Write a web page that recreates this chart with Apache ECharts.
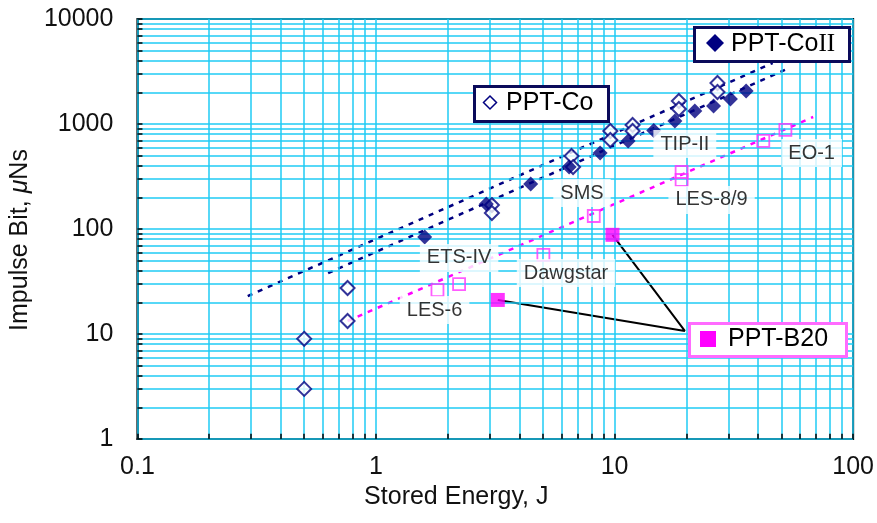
<!DOCTYPE html>
<html>
<head>
<meta charset="utf-8">
<script src="https://cdn.jsdelivr.net/npm/echarts@6/dist/echarts.min.js"></script>
<style>html,body{margin:0;padding:0;background:#fff}#c{width:877px;height:523px}</style>
</head>
<body>
<div id="c"></div>
<script>
// ---- data ----
const coIIEnergy  = [1.6, 2.9, 4.45, 6.45, 8.7, 11.4, 14.6, 17.9, 21.7, 26, 30.6, 35.6];
const coIIImpulse = [84, 173, 268, 389, 529, 689, 867, 1068, 1330, 1484, 1730, 2062];

const coEnergy  = [0.5, 0.5, 0.76, 0.76, 3.06, 3.06, 6.6, 6.7, 9.6, 9.6, 11.9, 11.9, 18.6, 18.6, 27, 27];
const coImpulse = [3.0, 9.0, 13.3, 27.4, 169, 142, 496, 389, 858, 704, 979, 858, 1656, 1389, 2457, 2017];

const lesEnergy  = [1.81, 2.23, 5.03, 8.18, 19.1, 19.1, 42, 52];
const lesImpulse = [26.2, 29.9, 56.6, 133, 293, 349, 690, 880];

const b20Energy  = [3.24, 9.8];
const b20Impulse = [21.1, 88];

const coTrendE   = [0.29, 46];   const coTrendI   = [23, 3810];
const coIITrendE = [0.63, 54];   const coIITrendI = [38, 3415];
const lesTrendE  = [0.76, 68];   const lesTrendI  = [13.3, 1166];

const calloutE = [19.7];  const calloutI = [10.7];

const labelNames = ['ETS-IV', 'Dawgstar', 'LES-6', 'SMS', 'TIP-II', 'LES-8/9', 'EO-1'];
const labelE     = [2.23, 6.26, 1.76, 7.3, 19.7, 25.5, 67];
const labelI     = [53, 38, 16.9, 220, 645, 189, 529];

const xDecades = [0.1, 1, 10];
const yDecades = [1, 10, 100, 1000];
const xTickLabels = ['0.1', '1', '10', '100'];
const yTickLabels = ['1', '10', '100', '1000', '10000'];

// ---- build ----
const zip = (a, b) => a.map((v, i) => [v, b[i]]);
const xGridVals = []; xDecades.forEach(d => { for (let k = 1; k <= 9; k++) xGridVals.push(+(k * d).toPrecision(3)); }); xGridVals.push(100);
const yGridVals = []; yDecades.forEach(d => { for (let k = 1; k <= 9; k++) yGridVals.push(k * d); }); yGridVals.push(10000);

const CYAN = '#1fcbf4';
const NAVY = '#000080';
const MAG = '#ff00ff';
const FONT = '"Liberation Sans", Arial, Helvetica, sans-serif';
const SERIF = '"Liberation Serif", "DejaVu Serif", serif';

const gridMarks = [];
xGridVals.forEach(v => gridMarks.push({ xAxis: v }));
yGridVals.forEach(v => gridMarks.push({ yAxis: v }));

const tickMarks = [];
xGridVals.forEach(v => tickMarks.push([{ coord: [v, 1] }, { coord: [v, 1.12] }]));
yGridVals.forEach(v => tickMarks.push([{ coord: [0.1, v] }, { coord: [0.105, v] }]));

const chart = echarts.init(document.getElementById('c'), null, { renderer: 'canvas' });
chart.setOption({
  animation: false,
  backgroundColor: '#fff',
  textStyle: { fontFamily: FONT },
  grid: { left: 135, top: 19, width: 723, height: 420, show: true, borderColor: '#000', borderWidth: 2, backgroundColor: '#fff' },
  xAxis: {
    type: 'log', logBase: 10, min: 0.1, max: 100,
    name: 'Stored Energy, J', nameLocation: 'middle', nameGap: 46,
    nameTextStyle: { fontSize: 25, color: '#111', fontFamily: FONT, padding: [0, 78, 0, 0] },
    axisLine: { show: true, lineStyle: { color: '#000', width: 2 } },
    axisTick: { show: false },
    splitLine: { show: false },
    axisLabel: { fontSize: 25, color: '#111', margin: 16, fontFamily: FONT,
      formatter: v => { const s = xTickLabels.find(t => Math.abs(+t - v) < 1e-9); return s || ''; } }
  },
  yAxis: {
    type: 'log', logBase: 10, min: 1, max: 10000,
    name: 'Impulse Bit, {i|μ}Ns', nameLocation: 'middle', nameGap: 98,
    nameTextStyle: { fontSize: 25, color: '#111', fontFamily: FONT, padding: [0, 22, 0, 0],
      rich: { i: { fontStyle: 'italic', fontSize: 25, fontFamily: FONT, color: '#111' } } },
    axisLine: { show: true, lineStyle: { color: '#000', width: 2 } },
    axisTick: { show: false },
    splitLine: { show: false },
    axisLabel: { fontSize: 25, color: '#111', margin: 24, fontFamily: FONT,
      formatter: v => { const s = yTickLabels.find(t => Math.abs(+t - v) < 1e-9); return s || ''; } }
  },
  series: [
    { type: 'line', data: [], silent: true, z: 1,
      markLine: { silent: true, symbol: 'none', animation: false, label: { show: false },
        lineStyle: { color: CYAN, width: 1.5, type: 'solid' }, data: gridMarks } },
    { type: 'line', data: [], silent: true, z: 2,
      markLine: { silent: true, symbol: 'none', animation: false, label: { show: false },
        lineStyle: { color: '#000', width: 1.5, type: 'solid' }, data: tickMarks } },
    { name: 'coTrend', type: 'line', data: zip(coTrendE, coTrendI), symbol: 'none', z: 3,
      lineStyle: { color: NAVY, width: 2.5, type: [5, 6] } },
    { name: 'coIITrend', type: 'line', data: zip(coIITrendE, coIITrendI), symbol: 'none', z: 3,
      lineStyle: { color: NAVY, width: 2.5, type: [5, 6] } },
    { name: 'lesTrend', type: 'line', data: zip(lesTrendE, lesTrendI), symbol: 'none', z: 3,
      lineStyle: { color: MAG, width: 2.5, type: [5, 6] } },
    { name: 'callout', type: 'line', symbol: 'none', z: 4,
      data: [[b20Energy[0], b20Impulse[0]], [calloutE[0], calloutI[0]], [b20Energy[1], b20Impulse[1]]],
      lineStyle: { color: '#000', width: 2 } },
    { name: 'PPT-Co', type: 'scatter', data: zip(coEnergy, coImpulse), symbol: 'diamond', symbolSize: 14, z: 5,
      itemStyle: { color: '#fff', borderColor: NAVY, borderWidth: 2 } },
    { name: 'PPT-CoII', type: 'scatter', data: zip(coIIEnergy, coIIImpulse), symbol: 'diamond', symbolSize: 15, z: 6,
      itemStyle: { color: NAVY } },
    { name: 'LES', type: 'scatter', data: zip(lesEnergy, lesImpulse), symbol: 'rect', symbolSize: 12, z: 5,
      itemStyle: { color: 'rgba(255,255,255,0)', borderColor: '#ff33ff', borderWidth: 1.8 } },
    { name: 'PPT-B20', type: 'scatter', data: zip(b20Energy, b20Impulse), symbol: 'rect', symbolSize: 14, z: 6,
      itemStyle: { color: MAG } },
    { name: 'labels', type: 'scatter', symbolSize: 0, z: 8,
      itemStyle: { color: '#fff' },
      data: labelNames.map((n, i) => ({ name: n, value: [labelE[i], labelI[i]] })),
      label: { show: true, position: 'inside', formatter: p => p.name, color: '#000', fontSize: 20,
        textBorderWidth: 0, textBorderColor: 'transparent',
        fontFamily: FONT, backgroundColor: '#fff', padding: [4, 7] } }
  ],
  graphic: [
    { type: 'rect', z: 100, zlevel: 1, left: 693, top: 26, shape: { width: 155, height: 34 }, style: { fill: '#fff', stroke: '#0a0a5a', lineWidth: 3 } },
    { type: 'polygon', z: 101, zlevel: 1, shape: { points: [[715, 34], [724, 43], [715, 52], [706, 43]] }, style: { fill: NAVY } },
    { type: 'text', z: 101, zlevel: 1, x: 731, y: 44, style: { text: 'PPT-Co{s|II}', fontSize: 25, fontFamily: FONT, fill: '#000', verticalAlign: 'middle',
        rich: { s: { fontFamily: SERIF, fontSize: 25, fill: '#000' } } } },

    { type: 'rect', z: 100, zlevel: 1, left: 473, top: 85, shape: { width: 134, height: 35 }, style: { fill: '#fff', stroke: '#0a0a5a', lineWidth: 3 } },
    { type: 'polygon', z: 101, zlevel: 1, shape: { points: [[490, 96], [496.5, 102.5], [490, 109], [483.5, 102.5]] }, style: { fill: '#fff', stroke: NAVY, lineWidth: 1.5 } },
    { type: 'text', z: 101, zlevel: 1, x: 506, y: 103, style: { text: 'PPT-Co', fontSize: 25, fontFamily: FONT, fill: '#000', verticalAlign: 'middle' } },

    { type: 'rect', z: 100, zlevel: 1, left: 688, top: 322, shape: { width: 157, height: 33 }, style: { fill: '#fff', stroke: '#ff6bff', lineWidth: 3 } },
    { type: 'rect', z: 101, zlevel: 1, shape: { x: 700, y: 331, width: 16, height: 16 }, style: { fill: MAG } },
    { type: 'text', z: 101, zlevel: 1, x: 728, y: 339, style: { text: 'PPT-B20', fontSize: 25, fontFamily: FONT, fill: '#000', verticalAlign: 'middle' } }
  ]
});
</script>
</body>
</html>
